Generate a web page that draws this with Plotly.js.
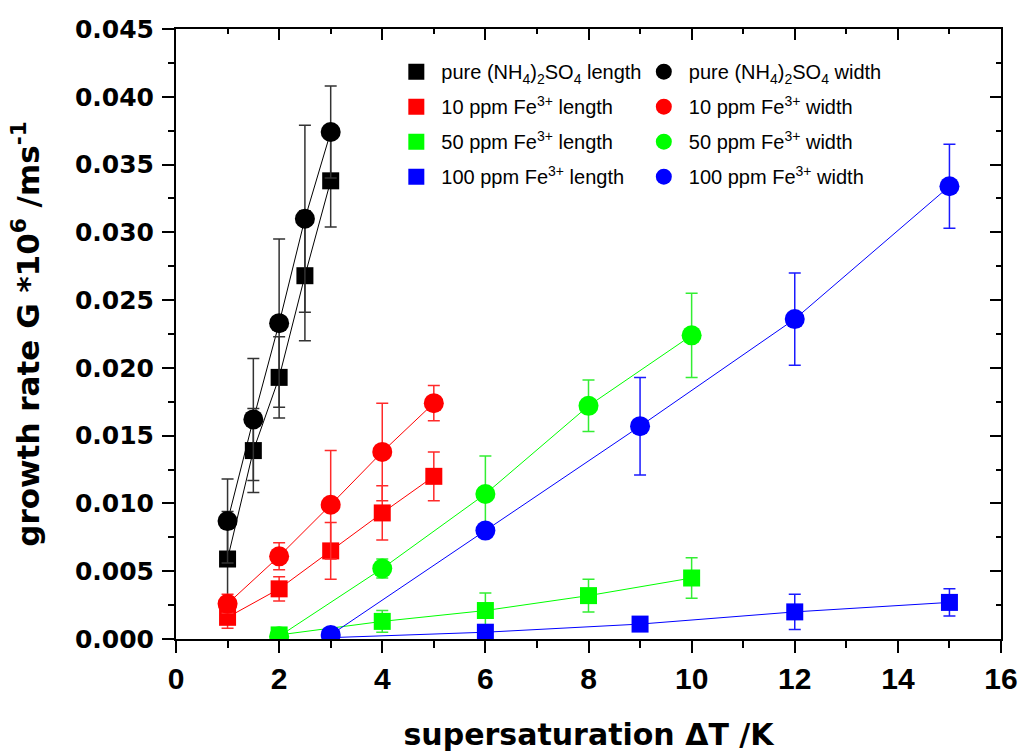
<!DOCTYPE html>
<html>
<head>
<meta charset="utf-8">
<script src="https://cdn.plot.ly/plotly-3.0.1.min.js"></script>
<style>html,body{margin:0;padding:0;background:#fff;}#chart{width:1021px;height:753px;}</style>
</head>
<body>
<div id="chart"></div>
<script>
// supersaturation ΔT /K
const xPure = [1, 1.5, 2, 2.5, 3];
const x10 = [1, 2, 3, 4, 5];
const x50 = [2, 4, 6, 8, 10];
const x100 = [3, 6, 9, 12, 15];

// growth rates
const pureLen = [0.0059, 0.0139, 0.0193, 0.0268, 0.0338];
const pureLenErr = [0.0035, 0.0031, 0.0030, 0.0048, 0.0034];
const pureWid = [0.0087, 0.0162, 0.0233, 0.0310, 0.0374];
const pureWidErr = [0.0031, 0.0045, 0.0062, 0.0069, 0.0034];

const fe10Len = [0.0016, 0.0037, 0.0065, 0.0093, 0.0120];
const fe10LenErr = [0.0008, 0.0009, 0.0021, 0.0020, 0.0018];
const fe10Wid = [0.0026, 0.0061, 0.0099, 0.0138, 0.0174];
const fe10WidErr = [0.0007, 0.0010, 0.0040, 0.0036, 0.0013];

const fe50Len = [0.0003, 0.0013, 0.0021, 0.0032, 0.0045];
const fe50LenErr = [0, 0.0008, 0.0013, 0.0012, 0.0015];
const fe50Wid = [0.0002, 0.0052, 0.0107, 0.0172, 0.0224];
const fe50WidErr = [0, 0.0007, 0.0028, 0.0019, 0.0031];

const fe100Len = [0.0001, 0.0005, 0.0011, 0.0020, 0.0027];
const fe100LenErr = [0, 0.0003, 0, 0.0013, 0.0010];
const fe100Wid = [0.0003, 0.0080, 0.0157, 0.0236, 0.0334];
const fe100WidErr = [0, 0, 0.0036, 0.0034, 0.0031];

const lenNames = ['pure (NH<sub>4</sub>)<sub>2</sub>SO<sub>4</sub> length', '10 ppm Fe<sup>3+</sup> length', '50 ppm Fe<sup>3+</sup> length', '100 ppm Fe<sup>3+</sup> length'];
const widNames = ['pure (NH<sub>4</sub>)<sub>2</sub>SO<sub>4</sub> width', '10 ppm Fe<sup>3+</sup> width', '50 ppm Fe<sup>3+</sup> width', '100 ppm Fe<sup>3+</sup> width'];

const series = [
  {x: xPure, len: pureLen, lenErr: pureLenErr, wid: pureWid, widErr: pureWidErr, color: '#000000', err: '#333333'},
  {x: x10, len: fe10Len, lenErr: fe10LenErr, wid: fe10Wid, widErr: fe10WidErr, color: '#ff0000', err: '#ff2a2a'},
  {x: x50, len: fe50Len, lenErr: fe50LenErr, wid: fe50Wid, widErr: fe50WidErr, color: '#00ff00', err: '#33ee33'},
  {x: x100, len: fe100Len, lenErr: fe100LenErr, wid: fe100Wid, widErr: fe100WidErr, color: '#0000ff', err: '#1a1aff'}
];

const traces = [];
series.forEach((s, i) => {
  traces.push({x: s.x, y: s.len, mode: 'lines', line: {color: s.color, width: 1}, showlegend: false, hoverinfo: 'skip'});
  traces.push({x: s.x, y: s.wid, mode: 'lines', line: {color: s.color, width: 1}, showlegend: false, hoverinfo: 'skip'});
});
series.forEach((s, i) => {
  traces.push({
    x: s.x, y: s.len, mode: 'markers', name: lenNames[i], legend: 'legend', legendgroup: 'l' + i,
    marker: {symbol: 'square', size: 17, color: s.color},
    error_y: {type: 'data', array: s.lenErr, visible: true, color: s.err, thickness: 1.5, width: 6}
  });
  traces.push({
    x: s.x, y: s.wid, mode: 'markers', name: widNames[i], legend: 'legend2', legendgroup: 'w' + i,
    marker: {symbol: 'circle', size: 20, color: s.color},
    error_y: {type: 'data', array: s.widErr, visible: true, color: s.err, thickness: 1.5, width: 6}
  });
});
traces.push({x: [], y: [], xaxis: 'x2', yaxis: 'y2', mode: 'markers', showlegend: false, hoverinfo: 'skip'});

const legendFont = {family: 'Liberation Sans, Arial, sans-serif', size: 20, color: '#000'};
const layout = {
  width: 1021, height: 753,
  margin: {l: 176, r: 20, t: 29, b: 114},
  paper_bgcolor: '#fff', plot_bgcolor: '#fff',
  showlegend: true,
  xaxis: {
    range: [0, 16], dtick: 2, tick0: 0, showgrid: false, zeroline: false,
    showline: true, linecolor: '#000', linewidth: 2,
    ticks: 'outside', ticklen: 12, tickwidth: 2, tickcolor: '#000',
    minor: {dtick: 1, ticks: 'outside', ticklen: 7, tickwidth: 2, tickcolor: '#000', showgrid: false},
    tickfont: {family: 'Liberation Sans, Arial, sans-serif', size: 30, weight: 'bold', color: '#000'},
    title: {text: 'supersaturation \u0394T /K', font: {family: 'DejaVu Sans, sans-serif', size: 30, weight: 'bold', color: '#000'}, standoff: 30}
  },
  yaxis: {
    range: [0, 0.045], dtick: 0.005, tick0: 0, tickformat: '.3f', showgrid: false, zeroline: false,
    showline: true, linecolor: '#000', linewidth: 2,
    ticks: 'outside', ticklen: 12, tickwidth: 2, tickcolor: '#000',
    minor: {dtick: 0.0025, ticks: 'outside', ticklen: 6, tickwidth: 2, tickcolor: '#000', showgrid: false},
    tickfont: {family: 'DejaVu Sans, sans-serif', size: 25, weight: 'bold', color: '#000'},
    ticklabelstandoff: 3,
    title: {text: 'growth rate G *10<sup>6</sup> /ms<sup>-1</sup>', font: {family: 'DejaVu Sans, sans-serif', size: 31, weight: 'bold', color: '#000'}, standoff: 26}
  },
  xaxis2: {
    overlaying: 'x', side: 'top', anchor: 'y', range: [0, 16], dtick: 2, tick0: 0,
    showgrid: false, zeroline: false, showticklabels: false,
    showline: true, linecolor: '#000', linewidth: 2,
    ticks: 'inside', ticklen: 11, tickwidth: 2, tickcolor: '#000',
    minor: {dtick: 1, ticks: 'inside', ticklen: 5, tickwidth: 2, tickcolor: '#000', showgrid: false}
  },
  yaxis2: {
    overlaying: 'y', side: 'right', anchor: 'x', range: [0, 0.045], dtick: 0.005, tick0: 0,
    showgrid: false, zeroline: false, showticklabels: false,
    showline: true, linecolor: '#000', linewidth: 2,
    ticks: 'inside', ticklen: 11, tickwidth: 2, tickcolor: '#000',
    minor: {dtick: 0.0025, ticks: 'inside', ticklen: 5, tickwidth: 2, tickcolor: '#000', showgrid: false}
  },
  legend: {
    x: 0.261, y: 0.962, xanchor: 'left', yanchor: 'top', bgcolor: 'rgba(0,0,0,0)', borderwidth: 0,
    font: legendFont, tracegroupgap: 6, traceorder: 'grouped', itemsizing: 'trace', itemwidth: 40
  },
  legend2: {
    x: 0.561, y: 0.962, xanchor: 'left', yanchor: 'top', bgcolor: 'rgba(0,0,0,0)', borderwidth: 0,
    font: legendFont, tracegroupgap: 6, traceorder: 'grouped', itemsizing: 'trace', itemwidth: 40
  }
};

Plotly.newPlot('chart', traces, layout, {displayModeBar: false, staticPlot: true});
</script>
</body>
</html>
